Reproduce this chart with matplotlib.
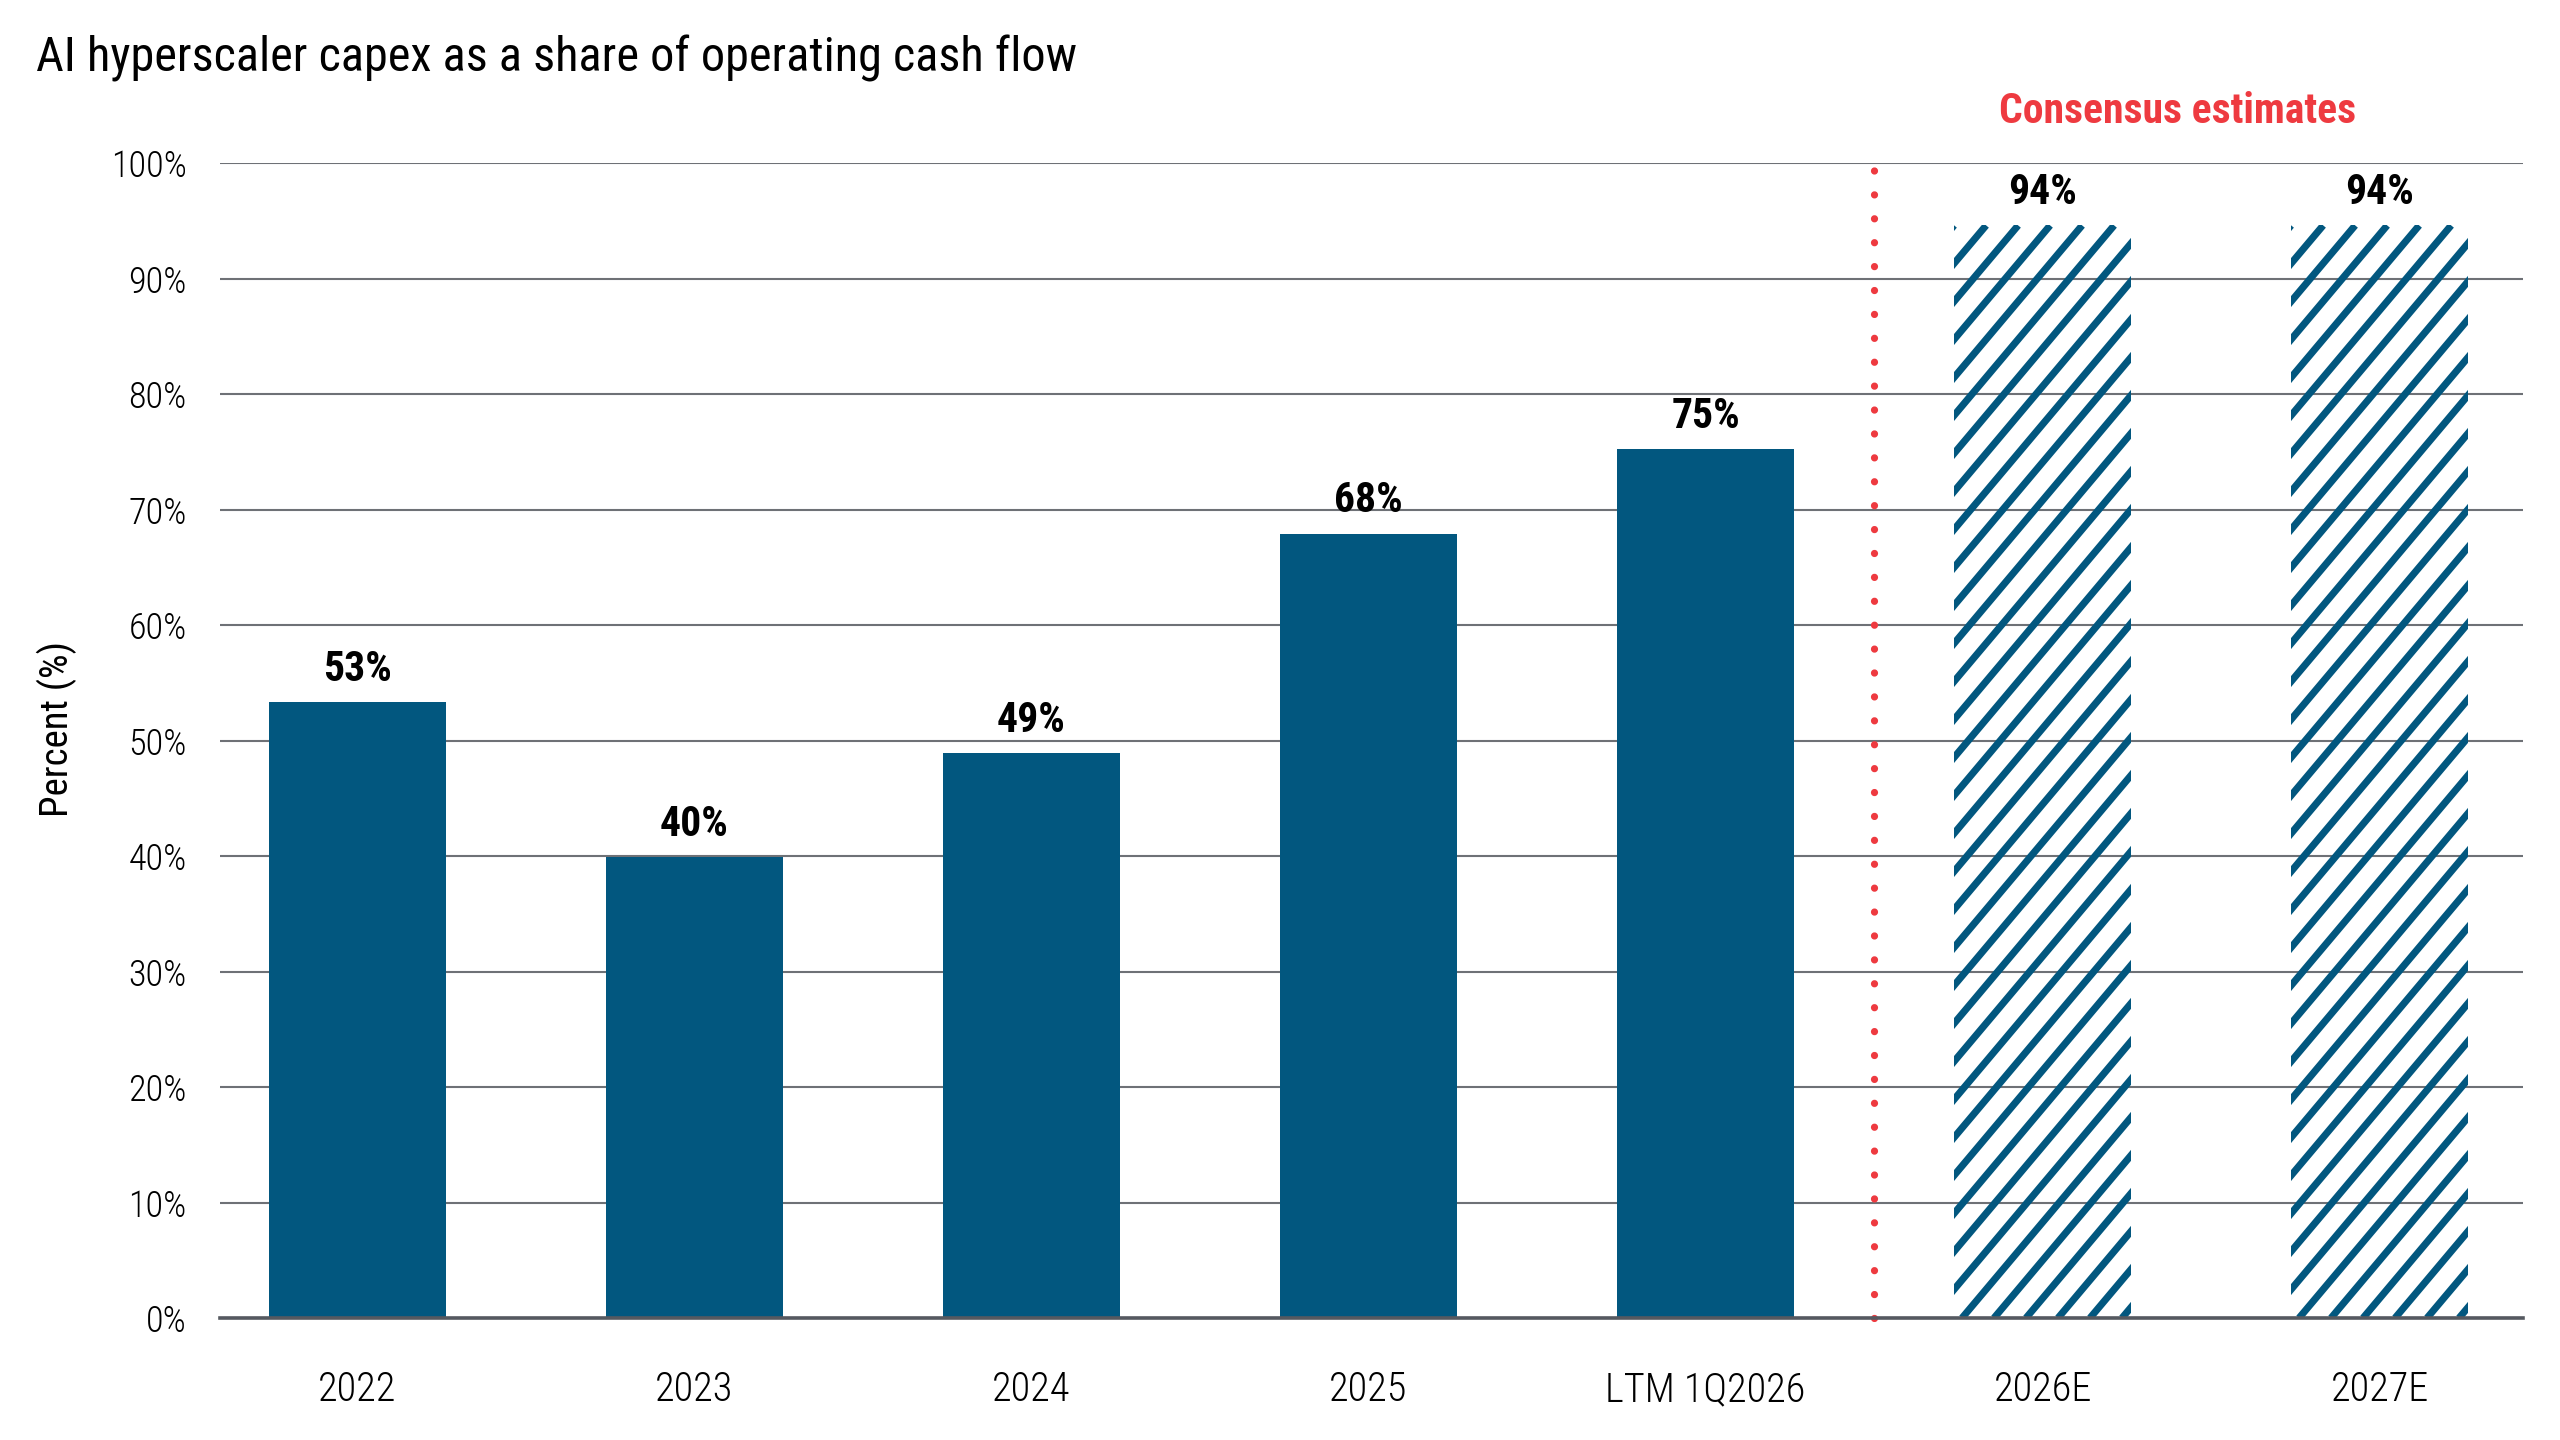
import numpy as np
import matplotlib.pyplot as plt
from matplotlib.lines import Line2D

# Data
categories = ["2022", "2023", "2024", "2025", "LTM 1Q2026", "2026E", "2027E"]
values = [53.3, 39.9, 48.9, 67.9, 75.2, 94.6, 94.6]
value_labels = ["53%", "40%", "49%", "68%", "75%", "94%", "94%"]
is_estimate = [False, False, False, False, False, True, True]
y_ticks = list(range(0, 101, 10))
y_tick_labels = [f"{t}%" for t in y_ticks]

title = "AI hyperscaler capex as a share of operating cash flow"
estimate_note = "Consensus estimates"

# Colours
navy = "#02577f"
red = "#ee3a40"
grid_gray = "#6e7176"
axis_gray = "#555960"

# prefer a condensed face if one is installed, otherwise Roboto
plt.rcParams['font.family'] = ['Roboto Condensed', 'Noto Sans Condensed',
                               'Open Sans Condensed', 'Liberation Sans Narrow',
                               'Roboto', 'DejaVu Sans']

fig = plt.figure(figsize=(12.8, 7.2), dpi=200)
ax = fig.add_axes([0.0859, 0.0847, 0.8996, 0.8021])

x = np.arange(len(categories))
vals = np.array(values)
est = np.array(is_estimate)
bar_w = 0.525

ax.set_xlim(-0.408, 6.425)
ax.set_ylim(0, 100)

# solid bars for actuals
ax.bar(x[~est], vals[~est], width=bar_w, color=navy, zorder=3)

# hatched bars for estimates: diagonal stripes clipped to each bar
hbars = ax.bar(x[est], vals[est], width=bar_w, facecolor='none',
               edgecolor='none', zorder=3)
p0, p1 = ax.transData.transform([(0, 0), (1, 1)])
px_x, px_y = p1 - p0          # pixels per data unit
slope_px = 38 / 32            # stripe rise/run in pixels
step = 32 / px_x              # horizontal stripe spacing in data units
for rect in hbars:
    x0, w, h = rect.get_x(), rect.get_width(), rect.get_height()
    shift = h * px_y / (slope_px * px_x)
    for xs in np.arange(x0 - shift, x0 + w + step, step):
        ln = Line2D([xs, xs + shift], [0, h], color=navy, lw=2.55,
                    solid_capstyle='butt', zorder=3)
        ax.add_line(ln)
        ln.set_clip_path(rect)

# value labels
for xi, v, lbl in zip(x, vals, value_labels):
    ax.annotate(lbl, (xi, v), xytext=(0, 4.5), textcoords='offset points',
                ha='center', va='bottom', fontsize=15, fontweight='bold',
                color='black')

# divider between actuals and estimates
ax.plot([4.5, 4.5], [0, 99.6], color=red, lw=2.6, linestyle=(0, (0.01, 3.3)),
        dash_capstyle='round', zorder=4, clip_on=False)
ax.text(5.4, 103.5, estimate_note, color=red, fontsize=15, fontweight='bold',
        ha='center', va='baseline', clip_on=False)

# axes styling
ax.set_yticks(y_ticks, y_tick_labels)
ax.set_xticks(x, categories)
ax.tick_params(axis='y', length=0, pad=12, labelsize=13)
ax.tick_params(axis='x', length=0, pad=19, labelsize=14.5)
for lbl in ax.get_xticklabels() + ax.get_yticklabels():
    lbl.set_fontweight('light')
for side in ['top', 'right', 'left']:
    ax.spines[side].set_visible(False)
ax.spines['bottom'].set_color(axis_gray)
ax.spines['bottom'].set_linewidth(1.3)
ax.spines['bottom'].set_zorder(5)
ax.yaxis.grid(True, color=grid_gray, lw=0.75)
ax.set_axisbelow(True)

ax.set_ylabel("Percent (%)", fontsize=14)
ax.yaxis.set_label_coords(-0.062, 0.51)

fig.text(0.0141, 0.95, title, fontsize=17.4, va='baseline')

fig.savefig("out.png", dpi=200)
